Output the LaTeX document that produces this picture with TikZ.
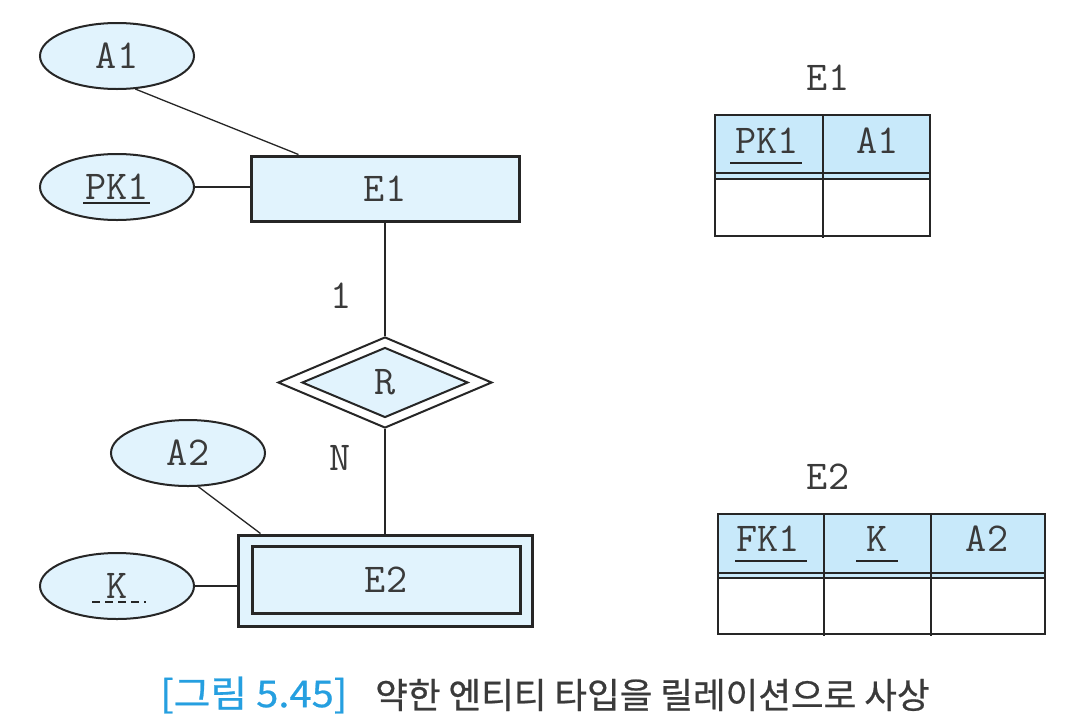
\documentclass[tikz,border=0pt]{standalone}
\usepackage{fontspec}
\newfontfamily\krfont[FakeBold=0.6]{Noto Sans CJK KR}
\usetikzlibrary{shapes.geometric}
\definecolor{entfill}{HTML}{E1F3FD}
\definecolor{hdrfill}{HTML}{C8E9FA}
\definecolor{ink}{HTML}{262626}
\definecolor{txt}{HTML}{3A3A3A}
\definecolor{capblue}{HTML}{259FE0}
\newcommand\erfont{\fontsize{41}{44}\selectfont\ttfamily}
\begin{document}
\begin{tikzpicture}[x=1pt,y=-1pt,
  conn/.style={draw=ink, line width=1.3pt},
  attr/.style={ellipse, draw=ink, line width=2pt, fill=entfill, minimum width=154pt, minimum height=66pt, inner sep=0pt, font=\erfont, text=txt},
  ent/.style={rectangle, draw=ink, line width=3pt, fill=entfill, inner sep=0pt, font=\erfont, text=txt},
  rel/.style={diamond, draw=ink, line width=2pt, inner sep=0pt, aspect=2.35},
  lbl/.style={font=\erfont, text=txt, inner sep=0pt},
  tbl/.style={draw=ink, line width=1.5pt},
  uline/.style={draw=ink, line width=1.5pt}]
\useasboundingbox (0,0) rectangle (1090,721);
\fill[white] (0,0) rectangle (1090,721);

% ---- ER diagram ----
\node[attr] (A1) at (117,56) {A1};
\node[attr] (PK1) at (117,187) {PK1};
\node[attr] (A2) at (188,453) {A2};
\node[attr] (K) at (117,586) {K};
\draw[uline] (83,203) -- (150,203);
\draw[ink, line width=1.3pt, dash pattern=on 8pt off 5pt] (92,602) -- (146,602);

\node[ent, minimum width=268pt, minimum height=65pt] (E1) at (385,188.5) {E1};

\node[rel, fill=white, minimum width=214pt, minimum height=91pt] (R) at (385,382.5) {};
\node[rel, fill=entfill, minimum width=166pt, minimum height=70pt, font=\erfont, text=txt] (Rin) at (385,382.5) {R};

\node[ent, minimum width=294pt, minimum height=91pt] (E2) at (385,580.5) {};
\node[ent, minimum width=268pt, minimum height=67pt] (E2in) at (386,579.5) {E2};

\draw[conn] (A1.-61) -- ([xshift=49pt]E1.north west);
\draw[conn] (PK1.east) -- (PK1.east -| E1.west);
\draw[conn] (E1.south) -- (R.north);
\draw[conn] (R.south) -- (E2.north);
\draw[conn] (A2.-73) -- ([xshift=24pt]E2.north west);
\draw[conn] (K.east) -- (K.east -| E2.west);

\node[lbl] (one) at (341,296) {1};
\node[lbl] (nlab) at (340,458) {N};

% ---- relation E1 ----
\node[lbl] (t1) at (828,78) {E1};
\fill[hdrfill] (715,115) rectangle (930,179);
\draw[tbl] (715,115) rectangle (930,236);
\draw[tbl] (715,173) -- (930,173);
\draw[tbl] (715,179) -- (930,179);
\draw[tbl] (823,115) -- (823,238);
\node[lbl] (t1pk) at (767,140.5) {PK1};
\node[lbl] (t1a) at (877.5,140.5) {A1};
\draw[uline] (730,163) -- (802,163);

% ---- relation E2 ----
\node[lbl] (t2) at (828,477) {E2};
\fill[hdrfill] (718,514) rectangle (1045,578);
\draw[tbl] (718,514) rectangle (1045,634);
\draw[tbl] (718,573) -- (1045,573);
\draw[tbl] (718,578) -- (1045,578);
\draw[tbl] (824,514) -- (824,636);
\draw[tbl] (931,514) -- (931,636);
\node[lbl] (t2fk) at (768,538.5) {FK1};
\node[lbl] (t2k) at (877,538.5) {K};
\node[lbl] (t2a) at (987,538.5) {A2};
\draw[uline] (735,561) -- (807,561);
\draw[uline] (856,561) -- (898,561);

% ---- caption ----
\node[anchor=west, inner sep=0pt, text=capblue, font=\krfont\fontsize{37}{40}\selectfont, xscale=1.08, transform shape] (cap1) at (160,695) {[그림 5.45]};
\node[anchor=west, inner sep=0pt, text=txt, font=\krfont\fontsize{35.5}{40}\selectfont] (cap2) at (375,695) {약한 엔티티 타입을 릴레이션으로 사상};
\end{tikzpicture}
\end{document}
